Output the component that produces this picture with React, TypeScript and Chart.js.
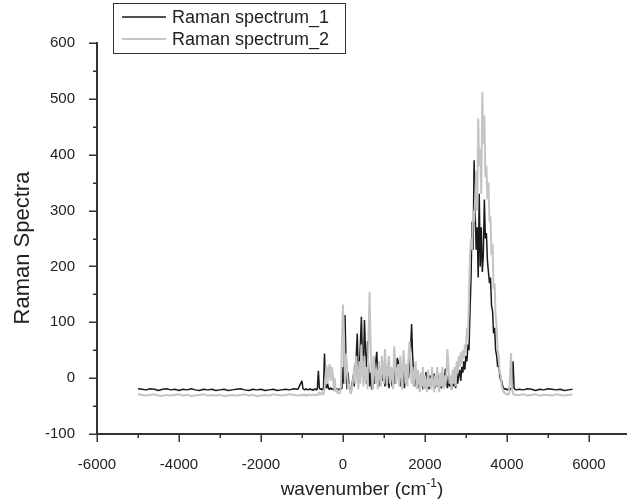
import React, { useEffect, useRef } from "react";
import { Chart, registerables } from "chart.js";

Chart.register(...registerables);

// ---- data -------------------------------------------------------------
const seriesNames = ["Raman spectrum_1", "Raman spectrum_2"];

// baseline region, -5000 .. -1100 cm-1, every 100
const LEFT_START = -5000;
const LEFT_STEP = 100;
const spec1Left = [
  -19, -20, -21, -19, -20, -22, -20, -19, -21, -20,
  -22, -20, -21, -19, -21, -22, -20, -21, -20, -22,
  -21, -20, -22, -21, -20, -19, -21, -22, -20, -21,
  -20, -22, -21, -20, -22, -21, -20, -21, -19, -20,
];
const spec2Left = [
  -29, -30, -31, -30, -29, -31, -32, -30, -31, -30,
  -29, -31, -30, -32, -31, -30, -29, -31, -30, -31,
  -30, -32, -31, -30, -31, -30, -29, -31, -30, -32,
  -31, -30, -31, -29, -30, -31, -30, -29, -30, -31,
];

// active region, -1000 .. 4225 cm-1, every 25 (rows of 250 cm-1)
const MID_START = -1000;
const MID_STEP = 25;
const spec1Mid = [
  -5, -19, -20, -21, -19, -20, -21, -20, -19, -21,
  -20, -22, -20, -19, -21, -20, 13, -18, -20, -19,
  -21, -18, 44, -15, -18, -10, -19, -20, -17, -20,
  -19, -21, -18, -20, -19, -21, -20, -19, -20, -18,
  20, -10, 113, 30, -20, 10, -15, -22, -18, -10,
  5, -15, 20, 40, 80, -5, 20, 60, 110, 40,
  15, 104, 50, -10, 66, 20, -15, 10, -20, -18,
  5, -10, 30, 47, 10, -15, 5, -10, 15, -5,
  10, -15, 20, -10, 5, -18, 15, 0, -15, 10,
  25, -10, 5, 36, 30, 5, -15, 10, -10, 15,
  -18, 5, -10, 20, 0, 30, 50, 97, 40, 10,
  -15, 5, -10, 10, -18, -5, -15, 5, -20, -10,
  -18, 11, -15, -5, -20, 5, -15, 13, -10, 8,
  -18, -5, -15, 5, -20, -8, -18, 10, -15, -5,
  17, -10, -18, 5, -15, -5, -20, 0, -15, 5,
  -18, 10, -10, 5, 15, -5, 20, 10, 30, 15,
  40, 30, 60, 50, 120, 180, 280, 230, 390, 300,
  230, 270, 180, 330, 200, 270, 190, 220, 320, 250,
  260, 210, 190, 170, 180, 130, 120, 80, 90, 50,
  40, 20, 25, 5, -5, -5, -15, -18, -20, -19,
  -21, -20, -19, -21, -18, -20, 30, -18, -20, -21,
];
const spec2Mid = [
  -30, -31, -29, -30, -32, -30, -31, -29, -30, -31,
  -30, -29, -31, -30, -30, -31, -28, -25, -30, -28,
  -25, -30, -20, 5, 23, -10, 15, 25, -5, 20,
  10, -20, 0, -25, -20, -28, -25, -28, -15, 60,
  132, 80, -10, 44, 20, -20, -10, -25, -28, -15,
  0, 20, -10, 40, 10, -20, 30, -10, 60, 20,
  -15, 40, -5, 20, -20, 80, 154, 60, 10, -20,
  40, 20, -10, 15, -20, 30, 5, -15, 40, 20,
  -10, 52, 10, -15, 25, 40, -10, 20, 5, -20,
  57, 30, -10, 15, 25, -15, 40, 10, -20, 50,
  30, -10, 25, -15, 40, 65, 30, -10, 20, -15,
  10, 30, -20, 15, 0, -25, 10, -15, 20, -20,
  5, -10, -25, 15, -15, 0, -20, 20, -10, -25,
  5, -15, 20, -10, -25, 10, -15, 20, -20, 5,
  -15, 10, 52, 20, -10, 5, -20, 15, -10, 20,
  -15, 30, 10, 40, 20, 46, 25, 50, 35, 60,
  45, 90, 70, 150, 220, 250, 230, 300, 280, 320,
  370, 300, 465, 380, 410, 330, 512, 420, 470, 360,
  380, 320, 350, 280, 290, 220, 240, 160, 170, 110,
  90, 50, 40, 10, 5, -15, -20, -25, -28, -27,
  -30, -28, -30, 0, 45, -20, -28, -30, -29, -30,
];

// baseline region, 4300 .. 5600 cm-1, every 100
const RIGHT_START = 4300;
const RIGHT_STEP = 100;
const spec1Right = [-20, -21, -19, -20, -22, -20, -21, -19, -20, -21, -20, -22, -21, -20];
const spec2Right = [-30, -29, -31, -30, -29, -31, -30, -30, -31, -29, -30, -31, -30, -29];

// axis ticks
const xMajorTicks = [-6000, -4000, -2000, 0, 2000, 4000, 6000];
const xMinorTicks = [-5000, -3000, -1000, 1000, 3000, 5000];
const yMajorTicks = [-100, 0, 100, 200, 300, 400, 500, 600];
const yMinorTicks = [-50, 50, 150, 250, 350, 450, 550];

// ---- helpers ------------------------------------------------------------
const toPoints = (start: number, step: number, values: number[]) =>
  values.map((y, i) => ({ x: start + i * step, y }));

const FONT = "'Liberation Sans', Arial, Helvetica, sans-serif";
const W = 627;
const H = 504;

const origin = {
  id: "originStyle",
  afterDraw(chart: any) {
    const { ctx, chartArea, scales } = chart;
    const xs = scales.x;
    const ys = scales.y;
    const left = chartArea.left;
    const bottom = chartArea.bottom;
    ctx.save();
    // axes
    ctx.strokeStyle = "#333";
    ctx.lineWidth = 2;
    ctx.beginPath();
    ctx.moveTo(left, ys.getPixelForValue(600) - 1);
    ctx.lineTo(left, bottom);
    ctx.lineTo(W, bottom);
    ctx.stroke();
    // ticks
    ctx.lineWidth = 1.5;
    ctx.beginPath();
    xMajorTicks.forEach((v) => {
      const px = Math.round(xs.getPixelForValue(v)) + 0.25;
      ctx.moveTo(px, bottom);
      ctx.lineTo(px, bottom + 8);
    });
    xMinorTicks.forEach((v) => {
      const px = Math.round(xs.getPixelForValue(v)) + 0.25;
      ctx.moveTo(px, bottom);
      ctx.lineTo(px, bottom + 4);
    });
    yMajorTicks.forEach((v) => {
      const py = Math.round(ys.getPixelForValue(v)) + 0.25;
      ctx.moveTo(left, py);
      ctx.lineTo(left - 8, py);
    });
    yMinorTicks.forEach((v) => {
      const py = Math.round(ys.getPixelForValue(v)) + 0.25;
      ctx.moveTo(left, py);
      ctx.lineTo(left - 4, py);
    });
    ctx.stroke();

    // axis titles
    ctx.fillStyle = "#222";
    ctx.textBaseline = "alphabetic";
    const mainTxt = "wavenumber (cm";
    const supTxt = "-1";
    const endTxt = ")";
    ctx.font = `19px ${FONT}`;
    const wMain = ctx.measureText(mainTxt).width;
    const wEnd = ctx.measureText(endTxt).width;
    ctx.font = `12px ${FONT}`;
    const wSup = ctx.measureText(supTxt).width;
    const total = wMain + wSup + wEnd;
    const cx = (chartArea.left + chartArea.right) / 2;
    let tx = cx - total / 2;
    const ty = 495;
    ctx.textAlign = "left";
    ctx.font = `19px ${FONT}`;
    ctx.fillText(mainTxt, tx, ty);
    tx += wMain;
    ctx.font = `12px ${FONT}`;
    ctx.fillText(supTxt, tx, ty - 8);
    tx += wSup;
    ctx.font = `19px ${FONT}`;
    ctx.fillText(endTxt, tx, ty);

    ctx.save();
    ctx.translate(29, 248);
    ctx.rotate(-Math.PI / 2);
    ctx.textAlign = "center";
    ctx.font = `22px ${FONT}`;
    ctx.fillText("Raman Spectra", 0, 0);
    ctx.restore();

    // legend box
    const ds = chart.data.datasets;
    ctx.strokeStyle = "#333";
    ctx.lineWidth = 1;
    ctx.strokeRect(113.5, 3.5, 232, 50);
    const rows = [17, 39];
    rows.forEach((ry, i) => {
      ctx.strokeStyle = ds[i].borderColor;
      ctx.lineWidth = ds[i].borderWidth;
      ctx.beginPath();
      ctx.moveTo(122, ry);
      ctx.lineTo(166, ry);
      ctx.stroke();
      ctx.fillStyle = "#222";
      ctx.font = `18px ${FONT}`;
      ctx.textAlign = "left";
      ctx.textBaseline = "middle";
      ctx.fillText(ds[i].label, 172, ry + 1);
    });
    ctx.restore();
  },
};

export default function App() {
  const ref = useRef<HTMLCanvasElement | null>(null);
  useEffect(() => {
    if (!ref.current) return;
    const data1 = [
      ...toPoints(LEFT_START, LEFT_STEP, spec1Left),
      ...toPoints(MID_START, MID_STEP, spec1Mid),
      ...toPoints(RIGHT_START, RIGHT_STEP, spec1Right),
    ];
    const data2 = [
      ...toPoints(LEFT_START, LEFT_STEP, spec2Left),
      ...toPoints(MID_START, MID_STEP, spec2Mid),
      ...toPoints(RIGHT_START, RIGHT_STEP, spec2Right),
    ];
    const chart = new Chart(ref.current, {
      type: "line",
      data: {
        datasets: [
          {
            label: seriesNames[0],
            data: data1,
            borderColor: "#1a1a1a",
            borderWidth: 1.5,
            pointRadius: 0,
            tension: 0,
            fill: false,
            borderJoinStyle: "bevel",
            order: 1,
          },
          {
            label: seriesNames[1],
            data: data2,
            borderColor: "#c4c4c4",
            borderWidth: 2,
            pointRadius: 0,
            tension: 0,
            fill: false,
            borderJoinStyle: "bevel",
            order: 0,
          },
        ],
      } as any,
      options: {
        animation: false,
        responsive: false,
        maintainAspectRatio: false,
        devicePixelRatio: 1,
        layout: { padding: { left: 0, top: 43, right: 0, bottom: 0 } },
        plugins: { legend: { display: false }, tooltip: { enabled: false } },
        scales: {
          x: {
            type: "linear",
            min: -6000,
            max: 6930,
            grid: { display: false },
            border: { display: false },
            afterBuildTicks: (s: any) => {
              s.ticks = xMajorTicks.map((v) => ({ value: v }));
            },
            afterFit: (s: any) => {
              s.height = 70;
            },
            ticks: {
              autoSkip: false,
              maxRotation: 0,
              padding: 14,
              color: "#222",
              font: { family: FONT, size: 15 },
              callback: (v: any) => String(v),
            },
          },
          y: {
            type: "linear",
            min: -100,
            max: 600,
            grid: { display: false },
            border: { display: false },
            afterBuildTicks: (s: any) => {
              s.ticks = yMajorTicks.map((v) => ({ value: v }));
            },
            afterFit: (s: any) => {
              s.width = 97;
            },
            ticks: {
              autoSkip: false,
              padding: 14,
              color: "#222",
              font: { family: FONT, size: 15 },
              callback: (v: any) => String(v),
            },
          },
        },
      } as any,
      plugins: [origin],
    });
    return () => chart.destroy();
  }, []);
  return (
    <div style={{ position: "absolute", left: 0, top: 0, width: W, height: H }}>
      <canvas ref={ref} width={W} height={H} style={{ width: W, height: H, display: "block" }} />
    </div>
  );
}
